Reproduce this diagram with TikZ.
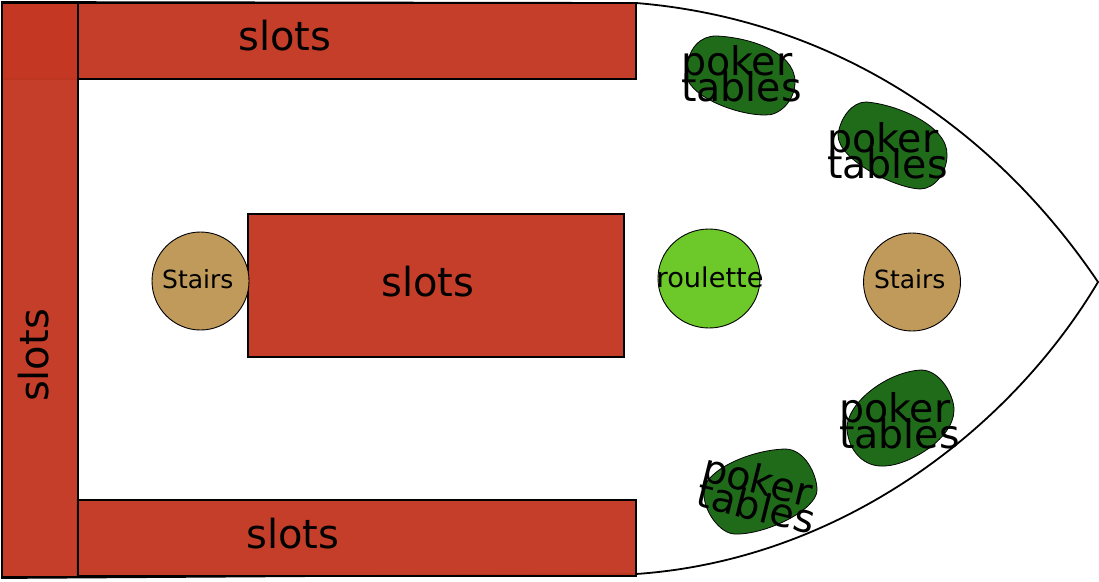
\documentclass[tikz,border=0pt]{standalone}
\usepackage{fontspec}
\setmainfont{DejaVu Sans}
\definecolor{slotred}{HTML}{C43823}
\definecolor{stairtan}{HTML}{BF9A5B}
\definecolor{roulgreen}{HTML}{6DC829}
\definecolor{tablegreen}{HTML}{206B1A}
\tikzset{
  hull/.style={draw=black,line width=1.8pt,fill=white},
  slotbox/.style={draw=black,line width=1.2pt,fill=slotred,fill opacity=.97},
  blob/.style={draw=black,line width=.8pt,fill=tablegreen},
  disc/.style={draw=black,line width=.9pt},
  big/.style={anchor=base,font=\fontsize{40}{40}\selectfont,inner sep=0pt},
  lbl/.style={anchor=base west,font=\fontsize{39.5}{40}\selectfont,inner sep=0pt},
  small/.style={anchor=base west,font=\fontsize{25}{25}\selectfont,inner sep=0pt}
}
\begin{document}
\begin{tikzpicture}[x=1pt,y=-1pt]
\useasboundingbox (0,0) rectangle (1099,581);
\fill[white] (0,0) rectangle (1099,581);
\draw[hull] (2,2) -- (636,3) .. controls (820,18) and (985,115) .. (1098,282)
  .. controls (1010,430) and (840,560) .. (636,574) -- (2,578) -- cycle;
\draw[slotbox] (2,3) rectangle (636,79);
\draw[slotbox] (77,500) rectangle (636,576);
\draw[slotbox] (248,214) rectangle (624,357);
\draw[slotbox] (2,3) rectangle (78,577);
\draw[disc,fill=stairtan] (200.5,281) ellipse (48.5 and 49);
\draw[disc,fill=stairtan] (912,282) ellipse (48.5 and 49);
\draw[disc,fill=roulgreen] (709,278.5) ellipse (51 and 49.5);
\draw[blob] (686,72) .. controls (688,48) and (700,36) .. (716,36)
  .. controls (745,37) and (795,50) .. (795,82)
  .. controls (795,100) and (780,116) .. (765,115)
  .. controls (735,115) and (685,95) .. (686,72) -- cycle;
\draw[blob] (838,135) .. controls (840,118) and (852,102) .. (866,102)
  .. controls (895,104) and (948,125) .. (947,155)
  .. controls (947,172) and (935,189) .. (920,189)
  .. controls (895,188) and (838,160) .. (838,135) -- cycle;
\draw[blob] (847,430) .. controls (845,405) and (885,372) .. (921,370)
  .. controls (940,370) and (954,395) .. (954,410)
  .. controls (954,440) and (905,468) .. (880,466)
  .. controls (862,465) and (849,450) .. (847,430) -- cycle;
\draw[blob] (704,490) .. controls (706,470) and (750,450) .. (785,449)
  .. controls (805,449) and (817,475) .. (817,490)
  .. controls (817,510) and (765,535) .. (735,534)
  .. controls (720,534) and (702,510) .. (704,490) -- cycle;
\node[big] (s1) at (285,50) {slots};
\node[big] (s2) at (428,296) {slots};
\node[big] (s3) at (293,548) {slots};
\node[big,rotate=90] (s4) at (48,355.5) {slots};
\node[small] (st1) at (162,288.5) {Stairs};
\node[small] (st2) at (874,288.5) {Stairs};
\node[small,font=\fontsize{27.2}{27}\selectfont] (r1) at (656.5,287.5) {roulette};
\node[lbl] (p1) at (681,75) {poker};
\node[lbl] (t1) at (681,101) {tables};
\node[lbl] (p2) at (827,152) {poker};
\node[lbl] (t2) at (827,178) {tables};
\node[lbl] (p3) at (839,422) {poker};
\node[lbl] (t3) at (839,448) {tables};
\node[lbl,rotate=-14] (p4) at (700,480) {poker};
\node[lbl,rotate=-14] (t4) at (694,505.5) {tables};
\end{tikzpicture}
\end{document}
